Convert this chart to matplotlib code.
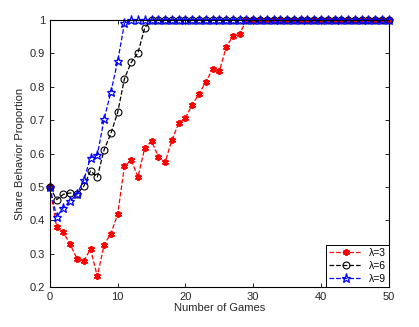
import numpy as np
import matplotlib
matplotlib.use("Agg")
import matplotlib.pyplot as plt
from matplotlib.ticker import FormatStrFormatter

plt.rcParams["font.family"] = ["Liberation Sans", "DejaVu Sans"]

games = np.arange(0, 51)

# values (λ=3 / λ=6 / λ=9), all reach 1 and stay there
lam3_head = [0.50, 0.38, 0.364, 0.328, 0.285, 0.278, 0.314, 0.232, 0.327, 0.36,
             0.418, 0.562, 0.58, 0.53, 0.617, 0.637, 0.591, 0.574, 0.64, 0.69,
             0.707, 0.746, 0.778, 0.815, 0.852, 0.846, 0.918, 0.952, 0.958]
lam6_head = [0.50, 0.462, 0.478, 0.482, 0.478, 0.502, 0.548, 0.53, 0.611, 0.66,
             0.723, 0.824, 0.873, 0.902, 0.977]
lam9_head = [0.50, 0.41, 0.438, 0.458, 0.478, 0.52, 0.588, 0.595, 0.703, 0.784,
             0.876, 0.99]

lam3 = lam3_head + [1.0] * (len(games) - len(lam3_head))
lam6 = lam6_head + [1.0] * (len(games) - len(lam6_head))
lam9 = lam9_head + [1.0] * (len(games) - len(lam9_head))

fig = plt.figure(figsize=(4.19, 3.27), dpi=100, facecolor="white")
ax = fig.add_axes([0.119, 0.122, 0.809, 0.817])

ax.plot(games, lam3, ls="--", color="red", lw=0.9, marker=(6, 2, 0),
        ms=5, mew=1.3, mec="red", label="λ=3", clip_on=False)
ax.plot(games, lam6, ls="--", color="black", lw=0.9, marker="o",
        ms=5, mfc="none", mew=0.8, mec="black", label="λ=6", clip_on=False)
ax.plot(games, lam9, ls="--", color="blue", lw=0.9, marker="*",
        ms=6.5, mfc="none", mew=0.9, mec="blue", label="λ=9", clip_on=False)

ax.set_xlim(0, 50)
ax.set_ylim(0.2, 1.0)
ax.set_xticks(np.arange(0, 51, 10))
ax.set_yticks(np.arange(0.2, 1.01, 0.1))
ax.yaxis.set_major_formatter(FormatStrFormatter("%g"))
ax.tick_params(direction="in", top=True, right=True, labelsize=8,
               length=3, width=0.6, labelcolor="#262626")
for sp in ax.spines.values():
    sp.set_linewidth(0.8)

ax.set_xlabel("Number of Games", fontsize=8, labelpad=1, color="#262626")
ax.set_ylabel("Share Behavior Proportion", fontsize=8, labelpad=3, color="#262626")

leg = ax.legend(loc="lower right", fontsize=7.5, borderaxespad=0, fancybox=False,
                framealpha=1, edgecolor="black", handlelength=3.2,
                handletextpad=0.6, borderpad=0.3, labelspacing=0.3)
leg.get_frame().set_linewidth(0.7)

fig.savefig("out.png", dpi=100)
